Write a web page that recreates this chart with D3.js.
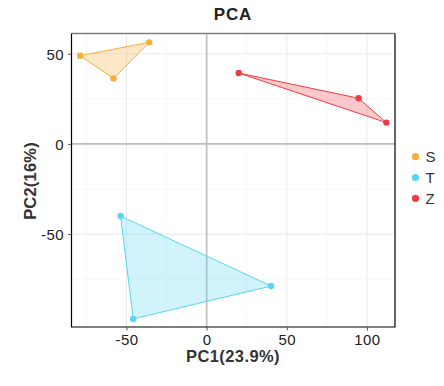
<!DOCTYPE html>
<html>
<head>
<meta charset="utf-8">
<script src="https://cdn.jsdelivr.net/npm/d3@7"></script>
<style>
  body { margin: 0; background: #fff; }
  text { font-family: "Liberation Sans", Arial, sans-serif; }
</style>
</head>
<body>
<div id="chart"></div>
<script>
// groups and sample coordinates
var groups = ["S", "T", "Z"];
var groupColors = ["#F7AE3B", "#5AD5F5", "#EF3B45"];
var pc1 = [-78.9, -35.8, -58.1, -53.7, 40.2, -45.8, 20.0, 94.8, 112.1];
var pc2 = [48.9, 56.3, 36.3, -40.0, -78.8, -97.0, 39.3, 25.3, 11.8];
var sampleGroup = ["S", "S", "S", "T", "T", "T", "Z", "Z", "Z"];
var xTicks = [-50, 0, 50, 100];
var yTicks = [-50, 0, 50];
var xMinor = [-75, -25, 25, 75];
var yMinor = [-75, -25, 25];

var chartWidth = 444, chartHeight = 386;
var margin = { top: 33.5, right: 49, bottom: 59, left: 71.5 };
var width = chartWidth - margin.left - margin.right,
    height = chartHeight - margin.top - margin.bottom;

var svg = d3.select("#chart").append("svg")
    .attr("width", chartWidth).attr("height", chartHeight);

var x = d3.scaleLinear().domain([-84.3, 117.5]).range([0, width]);
var y = d3.scaleLinear().domain([-101.5, 61.2]).range([height, 0]);
var color = d3.scaleOrdinal().domain(groups).range(groupColors);

var g = svg.append("g").attr("transform", "translate(" + margin.left + "," + margin.top + ")");

// grid
g.selectAll(".minx").data(xMinor).enter().append("line")
    .attr("x1", d => x(d)).attr("x2", d => x(d)).attr("y1", 0).attr("y2", height)
    .attr("stroke", "#f3f3f3").attr("stroke-width", 0.6);
g.selectAll(".miny").data(yMinor).enter().append("line")
    .attr("y1", d => y(d)).attr("y2", d => y(d)).attr("x1", 0).attr("x2", width)
    .attr("stroke", "#f3f3f3").attr("stroke-width", 0.6);
g.selectAll(".majx").data(xTicks).enter().append("line")
    .attr("x1", d => x(d)).attr("x2", d => x(d)).attr("y1", 0).attr("y2", height)
    .attr("stroke", "#ebebeb").attr("stroke-width", 1.1);
g.selectAll(".majy").data(yTicks).enter().append("line")
    .attr("y1", d => y(d)).attr("y2", d => y(d)).attr("x1", 0).attr("x2", width)
    .attr("stroke", "#ebebeb").attr("stroke-width", 1.1);

// zero lines
g.append("line").attr("x1", x(0)).attr("x2", x(0)).attr("y1", 0).attr("y2", height)
    .attr("stroke", "#bebebe").attr("stroke-width", 1.6);
g.append("line").attr("y1", y(0)).attr("y2", y(0)).attr("x1", 0).attr("x2", width)
    .attr("stroke", "#bebebe").attr("stroke-width", 1.6);

// hulls
var samples = pc1.map(function (v, i) {
    return { x: v, y: pc2[i], group: sampleGroup[i] };
});
groups.forEach(function (grp) {
    var pts = samples.filter(d => d.group === grp).map(d => [x(d.x), y(d.y)]);
    var hull = d3.polygonHull(pts);
    g.append("path")
        .attr("d", "M" + hull.join("L") + "Z")
        .attr("fill", color(grp)).attr("fill-opacity", 0.28)
        .attr("stroke", color(grp)).attr("stroke-width", 1);
});

g.selectAll(".pt").data(samples).enter().append("circle")
    .attr("cx", d => x(d.x)).attr("cy", d => y(d.y)).attr("r", 3.2)
    .attr("fill", d => color(d.group));

// border
g.append("line").attr("x1", 0).attr("x2", width).attr("y1", 0).attr("y2", 0)
    .attr("stroke", "#7f7f7f").attr("stroke-width", 1.6);
g.append("path").attr("d", "M" + width + ",0V" + height + "H0V0")
    .attr("fill", "none").attr("stroke", "#000").attr("stroke-width", 1.2);

// axes
var fmt = d => String(d);
var xAxis = g.append("g").attr("transform", "translate(0," + height + ")")
    .call(d3.axisBottom(x).tickValues(xTicks).tickFormat(fmt).tickSize(3.5).tickPadding(4));
var yAxis = g.append("g")
    .call(d3.axisLeft(y).tickValues(yTicks).tickFormat(fmt).tickSize(3.5).tickPadding(4));
[xAxis, yAxis].forEach(function (a) {
    a.select(".domain").remove();
    a.selectAll(".tick line").attr("stroke", "#555");
    a.selectAll(".tick text").attr("fill", "#222")
        .style("font-size", "15px").style("letter-spacing", "0.4px");
});
yAxis.selectAll(".tick text").attr("dy", "0.36em");

// titles
svg.append("text").attr("x", 233).attr("y", 19.5).attr("text-anchor", "middle")
    .style("font-size", "17px").style("font-weight", "bold").style("letter-spacing", "0.8px")
    .attr("fill", "#222").text("PCA");
svg.append("text").attr("x", 233).attr("y", 362).attr("text-anchor", "middle")
    .style("font-size", "16.5px").style("font-weight", "bold").style("letter-spacing", "0.4px")
    .attr("fill", "#333").text("PC1(23.9%)");
svg.append("text").attr("transform", "translate(36," + 181 + ") rotate(-90)")
    .attr("text-anchor", "middle")
    .style("font-size", "16.5px").style("font-weight", "bold").style("letter-spacing", "0.2px")
    .attr("fill", "#333").text("PC2(16%)");

// legend
var legend = svg.selectAll(".legend").data(groups).enter().append("g")
    .attr("transform", (d, i) => "translate(415.5," + (156.7 + i * 20.8) + ")");
legend.append("circle").attr("r", 3.6).attr("fill", d => color(d));
legend.append("text").attr("x", 10).attr("dy", "0.36em")
    .style("font-size", "15px").attr("fill", "#333").text(d => d);
</script>
</body>
</html>
